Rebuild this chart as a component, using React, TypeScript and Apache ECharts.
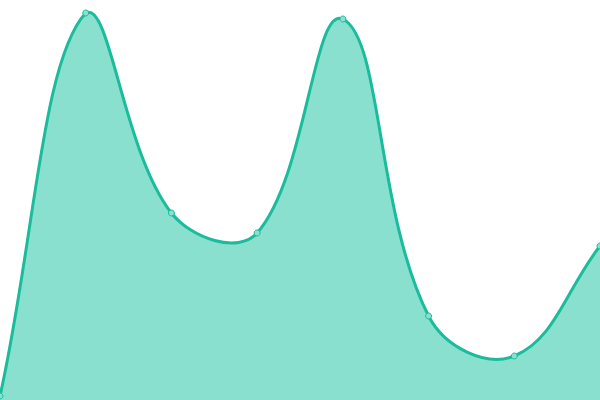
import React, { useEffect, useRef } from "react";
import * as echarts from "echarts";

const categories = ["1", "2", "3", "4", "5", "6", "7", "8"];
const values = [4, 387, 187, 167, 381, 84, 44, 154];
const TENSION = 0.4;

function splinePath(pts: number[][], area: { x: number; y: number; width: number; height: number }) {
  const n = pts.length;
  const cpPrev: number[][] = [];
  const cpNext: number[][] = [];
  const clamp = (v: number, a: number, b: number) => Math.max(a, Math.min(b, v));
  for (let i = 0; i < n; i++) {
    const cur = pts[i];
    const prev = pts[i - 1] || cur;
    const next = pts[i + 1] || cur;
    const d01 = Math.hypot(cur[0] - prev[0], cur[1] - prev[1]);
    const d12 = Math.hypot(next[0] - cur[0], next[1] - cur[1]);
    let s01 = d01 / (d01 + d12);
    let s12 = d12 / (d01 + d12);
    if (isNaN(s01)) s01 = 0;
    if (isNaN(s12)) s12 = 0;
    const fa = TENSION * s01;
    const fb = TENSION * s12;
    const vx = next[0] - prev[0];
    const vy = next[1] - prev[1];
    const l = area.x, r = area.x + area.width, t = area.y, b = area.y + area.height;
    cpPrev.push([clamp(cur[0] - fa * vx, l, r), clamp(cur[1] - fa * vy, t, b)]);
    cpNext.push([clamp(cur[0] + fb * vx, l, r), clamp(cur[1] + fb * vy, t, b)]);
  }
  let d = `M${pts[0][0]},${pts[0][1]}`;
  for (let i = 1; i < n; i++) {
    d += ` C${cpNext[i - 1][0]},${cpNext[i - 1][1]} ${cpPrev[i][0]},${cpPrev[i][1]} ${pts[i][0]},${pts[i][1]}`;
  }
  return d;
}

export default function App() {
  const ref = useRef<HTMLDivElement>(null);
  useEffect(() => {
    document.body.style.margin = "0";
    const chart = echarts.init(ref.current!, undefined, { renderer: "svg" });
    chart.setOption({
      animation: false,
      grid: { left: 0, right: 0, top: 0, bottom: 0 },
      xAxis: { type: "category", data: categories, boundaryGap: false, show: false },
      yAxis: { type: "value", min: 0, max: 400, show: false },
      series: [
        {
          type: "custom",
          data: values.map((v, i) => [i, v]),
          renderItem: (params: any, api: any) => {
            if (params.dataIndex !== 0) return null;
            const cs = params.coordSys;
            const pts = values.map((v, i) => api.coord([i, v]));
            const line = splinePath(pts, cs);
            const bottom = cs.y + cs.height;
            const areaD = `${line} L${pts[pts.length - 1][0]},${bottom} L${pts[0][0]},${bottom} Z`;
            return {
              type: "group",
              children: [
                { type: "path", shape: { pathData: areaD }, style: { fill: "#8ae0cf", stroke: "none" } },
                {
                  type: "path",
                  shape: { pathData: line },
                  style: { fill: "none", stroke: "#1abc9c", lineWidth: 3 },
                },
              ],
            };
          },
          z: 1,
        },
        {
          type: "line",
          data: values,
          symbol: "circle",
          symbolSize: 6,
          showSymbol: true,
          itemStyle: { color: "#8ae0cf", borderColor: "#1abc9c", borderWidth: 1 },
          lineStyle: { width: 0, opacity: 0 },
          z: 3,
        },
      ],
    });
    return () => chart.dispose();
  }, []);
  return <div ref={ref} style={{ width: 600, height: 400 }} />;
}
